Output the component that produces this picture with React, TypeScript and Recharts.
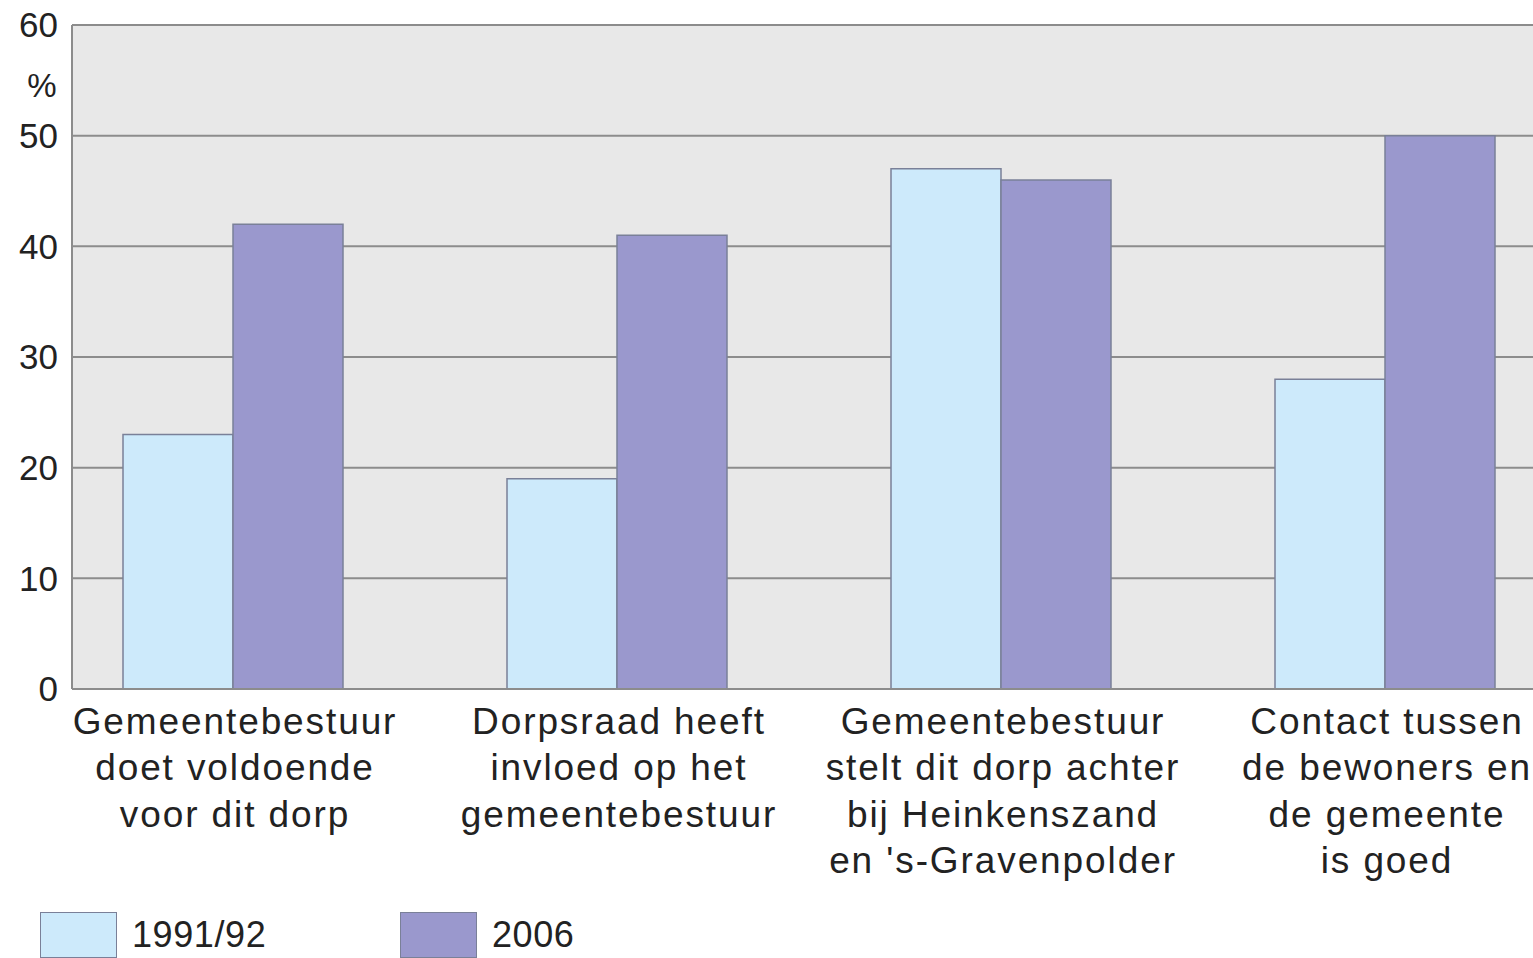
import { BarChart, Bar, XAxis, YAxis, CartesianGrid } from "recharts";

const categories: string[][] = [
  ["Gemeentebestuur", "doet voldoende", "voor dit dorp"],
  ["Dorpsraad heeft", "invloed op het", "gemeentebestuur"],
  ["Gemeentebestuur", "stelt dit dorp achter", "bij Heinkenszand", "en 's-Gravenpolder"],
  ["Contact tussen", "de bewoners en", "de gemeente", "is goed"],
];
const values1991 = [23, 19, 47, 28];
const values2006 = [42, 41, 46, 50];
const yTicks = [0, 10, 20, 30, 40, 50, 60];
const seriesNames = ["1991/92", "2006"];

const LIGHT = "#cdeafb";
const DARK = "#9a98cd";
const EDGE = "#7a8098";
const GRID = "#8c8c8c";
const TEXT = "#222222";
const FONT = "'Liberation Sans', Arial, sans-serif";

const data = categories.map((lines, i) => ({
  name: lines.join(" "),
  a: values1991[i],
  b: values2006[i],
}));

const CategoryTick = (props: any) => {
  const { x, y, index } = props;
  const lines = categories[index] || [];
  return (
    <text
      x={x + 2}
      y={y}
      textAnchor="middle"
      fill={TEXT}
      fontSize={37}
      fontFamily={FONT}
      letterSpacing={1.9}
    >
      {lines.map((line, i) => (
        <tspan key={i} x={x + 2} dy={i === 0 ? 37 : 46.3}>
          {line}
        </tspan>
      ))}
    </text>
  );
};

const PercentLabel = (props: any) => {
  const { viewBox } = props;
  return (
    <text
      x={42}
      y={viewBox.y + 72}
      textAnchor="middle"
      fill={TEXT}
      fontSize={33}
      fontFamily={FONT}
    >
      %
    </text>
  );
};

const LegendItem = ({ color, label, left }: { color: string; label: string; left: number }) => (
  <div style={{ position: "absolute", left, top: 912, height: 46, display: "flex", alignItems: "center" }}>
    <div
      style={{
        width: 75,
        height: 44,
        background: color,
        border: `1.5px solid ${EDGE}`,
      }}
    />
    <span
      style={{
        marginLeft: 15,
        fontSize: 36,
        fontFamily: FONT,
        color: TEXT,
        letterSpacing: 0.6,
        lineHeight: "40px",
      }}
    >
      {label}
    </span>
  </div>
);

export default function App() {
  return (
    <div
      style={{
        position: "fixed",
        left: 0,
        top: 0,
        width: 1533,
        height: 958,
        overflow: "hidden",
        background: "#ffffff",
      }}
    >
      <BarChart
        width={1600}
        height={958}
        data={data}
        margin={{ top: 25, right: 23, bottom: 0, left: 0 }}
        barCategoryGap={82}
        barGap={0}
      >
        <CartesianGrid
          vertical={false}
          fill="#e8e8e8"
          stroke={GRID}
          strokeWidth={2}
        />
        <XAxis
          dataKey="name"
          height={269}
          padding={{ left: -31, right: 0 }}
          axisLine={{ stroke: GRID, strokeWidth: 2 }}
          tickLine={false}
          interval={0}
          tick={<CategoryTick />}
        />
        <YAxis
          width={72}
          domain={[0, 60]}
          ticks={yTicks}
          interval={0}
          axisLine={{ stroke: GRID, strokeWidth: 2 }}
          tickLine={false}
          tickSize={6}
          tickMargin={8}
          tick={{ fontSize: 35, fill: TEXT, fontFamily: FONT }}
          label={<PercentLabel />}
        />
        <Bar
          dataKey="a"
          name={seriesNames[0]}
          fill={LIGHT}
          stroke={EDGE}
          strokeWidth={1.5}
          isAnimationActive={false}
        />
        <Bar
          dataKey="b"
          name={seriesNames[1]}
          fill={DARK}
          stroke={EDGE}
          strokeWidth={1.5}
          isAnimationActive={false}
        />
      </BarChart>
      <LegendItem color={LIGHT} label={seriesNames[0]} left={40} />
      <LegendItem color={DARK} label={seriesNames[1]} left={400} />
    </div>
  );
}
